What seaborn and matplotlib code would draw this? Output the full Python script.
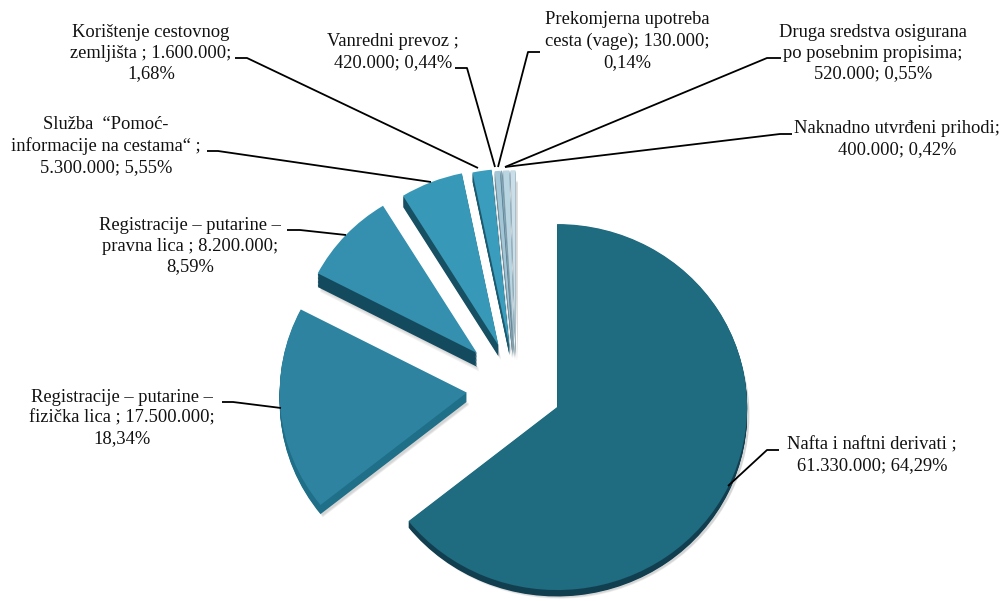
import matplotlib
matplotlib.use("Agg")
import matplotlib.pyplot as plt
import seaborn as sns

categories = [
    "Nafta i naftni derivati ;\n61.330.000; 64,29%",
    "Registracije – putarine –\nfizička lica ; 17.500.000;\n18,34%",
    "Registracije – putarine –\npravna lica ; 8.200.000;\n8,59%",
    "Služba  “Pomoć-\ninformacije na cestama“ ;\n5.300.000; 5,55%",
    "Korištenje cestovnog\nzemljišta ; 1.600.000;\n1,68%",
    "Vanredni prevoz ;\n420.000; 0,44%",
    "Prekomjerna upotreba\ncesta (vage); 130.000;\n0,14%",
    "Druga sredstva osigurana\npo posebnim propisima;\n520.000; 0,55%",
    "Naknadno utvrđeni prihodi;\n400.000; 0,42%",
]
values = [61330000, 17500000, 8200000, 5300000, 1600000, 420000, 130000, 520000, 400000]

top_colors = ["#1f6b80", "#2e84a0", "#3490ae", "#3799b7", "#3a9dbd",
              "#a3c6d6", "#7fa8bc", "#b9d5e2", "#c9dee8"]
side_colors = ["#123f50", "#1f6f88", "#134a5e", "#174f63", "#1c5a70",
               "#6f8c9a", "#5d7a88", "#7f99a5", "#8ea6b0"]
explode = [0.24, 0.26, 0.28, 0.25, 0.23, 0.21, 0.21, 0.21, 0.21]
depth = [0.035, 0.05, 0.075, 0.06, 0.05, 0.05, 0.05, 0.05, 0.05]
shrink = [1, 0.985, 0.945, 0.96, 0.97, 0.98, 0.98, 0.98, 0.98]

# label centre (px) and leader line (px)
label_pos = [(872, 455), (122, 418), (190, 246), (106, 146), (151, 53),
             (393, 52), (627, 41), (873, 53), (897, 139)]
leaders = [
    [(779, 450), (767, 450), (728, 486)],
    [(222, 402), (233, 402), (281, 408)],
    [(287, 230), (300, 230), (346, 235)],
    [(207, 151), (218, 151), (431, 182)],
    [(235, 58), (247, 58), (478, 168)],
    [(455, 68), (467, 68), (495, 167)],
    [(540, 52), (528, 52), (498, 167)],
    [(781, 58), (767, 58), (505, 167)],
    [(792, 134), (780, 134), (505, 167)],
]

W, H = 1008, 601
CX, CY, RX, RY = 516, 388, 190, 183

sns.set_theme(style="white")
plt.rcParams["font.family"] = ["Liberation Serif", "DejaVu Sans"]

fig = plt.figure(figsize=(W / 100, H / 100), dpi=100)
ax = fig.add_axes([0, 0, 1, 1])


def draw_layer(colors, dy=0.0, dx=0.0, alpha=1.0):
    wedges, _ = ax.pie(values, explode=explode, colors=colors, startangle=90,
                       counterclock=False, wedgeprops={"linewidth": 0, "alpha": alpha})
    for w, d, s in zip(wedges, depth, shrink):
        w.set_center((w.center[0] + dx, w.center[1] - d * dy))
        w.set_radius(s)
    return wedges


# soft shadow
for grow in [1.35, 1.25, 1.15]:
    draw_layer(["#808080"] * len(values), dy=grow, dx=0.012, alpha=0.12)

# side walls
for step in range(1, 11):
    draw_layer(side_colors, dy=step / 10)

# top face
top = draw_layer(top_colors)

ax.set_aspect("auto")
ax.set_xlim(-CX / RX, (W - CX) / RX)
ax.set_ylim(-(H - CY) / RY, CY / RY)
ax.axis("off")

for label, (x, y), line in zip(categories, label_pos, leaders):
    ax.text(x / W, 1 - y / H, label, transform=fig.transFigure, ha="center", va="center",
            fontsize=13.3, color="#111111", linespacing=1.3)
    xs = [p[0] / W for p in line]
    ys = [1 - p[1] / H for p in line]
    ax.plot(xs, ys, transform=fig.transFigure, color="black", lw=1.3, solid_capstyle="butt")

fig.savefig("out.png", dpi=100, facecolor="white")
plt.close(fig)
